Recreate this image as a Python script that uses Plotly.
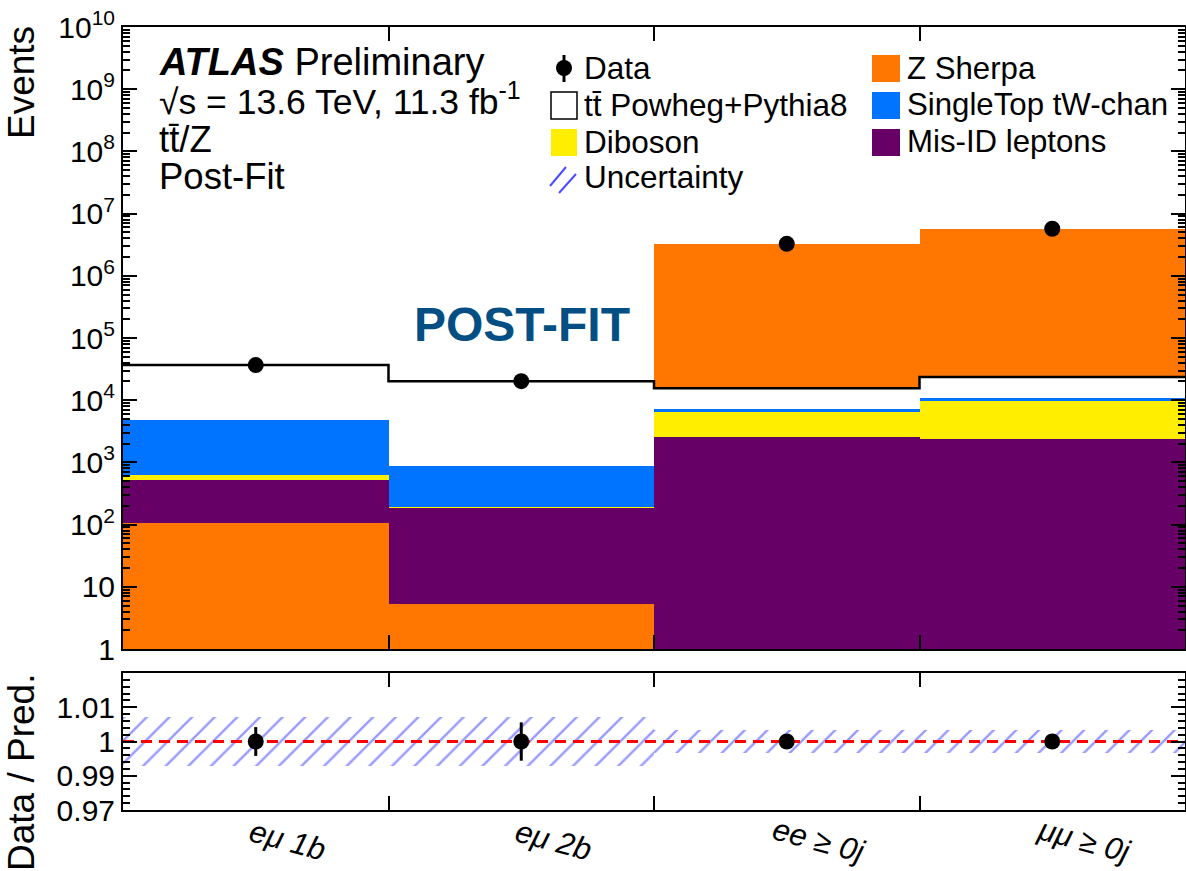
import plotly.graph_objects as go

W, H = 1186, 871
FONT = "Liberation Sans, Arial, Helvetica, sans-serif"

# ---------------- data ----------------
categories = ["eμ 1b", "eμ 2b", "ee ≥ 0j", "μμ ≥ 0j"]
z_sherpa = [104, 4.3, 3264000, 5706000]
mis_id = [425, 183, 2520, 2350]
diboson = [90, 2, 3880, 7250]
single_top = [4130, 700, 760, 1100]
ttbar = [31950, 19310, 8440, 12800]
data = [36700, 20200, 3270000, 5700000]
ratio = [1.0, 1.0, 1.0, 1.0]
ratio_err = [0.0042, 0.0056, 0.0006, 0.0004]
unc_rel = [0.0071, 0.0071, 0.0033, 0.0033]
# stacking order (bottom -> top) used per bin
stack_order = [
    ["Z", "MisID", "Diboson", "SingleTop", "ttbar"],
    ["Z", "MisID", "Diboson", "SingleTop", "ttbar"],
    ["MisID", "Diboson", "SingleTop", "ttbar", "Z"],
    ["MisID", "Diboson", "SingleTop", "ttbar", "Z"],
]
main_tickvals = [10 ** e for e in range(0, 11)]
main_ticktext = ["1", "10"] + [f"10<sup>{e}</sup>" for e in range(2, 11)]
ratio_tickvals = [0.98, 0.99, 1.0, 1.01]
ratio_ticktext = ["0.97", "0.99", "1", "1.01"]

procs = {
    "Z": (z_sherpa, "#ff7700"),
    "MisID": (mis_id, "#660066"),
    "Diboson": (diboson, "#ffee00"),
    "SingleTop": (single_top, "#0073ff"),
    "ttbar": (ttbar, "#ffffff"),
}

nb = len(categories)
xc = list(range(nb))

# compute per-bin bases
bases = {k: [0.0] * nb for k in procs}
for b in range(nb):
    cum = 1.0
    for k in stack_order[b]:
        bases[k][b] = cum
        cum += procs[k][0][b]

fig = go.Figure()

def px_x(p):
    return p / W

def px_y(p):
    return 1 - p / H

xdom = [px_x(123), px_x(1185)]
ydom_main = [px_y(649), px_y(27)]
ydom_ratio = [px_y(810), px_y(673)]

for k, (vals, col) in procs.items():
    fig.add_trace(go.Bar(
        x=xc, y=vals, base=bases[k], width=1.0,
        marker=dict(color=col, line=dict(width=0)),
        xaxis="x", yaxis="y", showlegend=False, hoverinfo="skip"))

# ttbar outline (step on the ttbar top)
tt_top = [bases["ttbar"][b] + ttbar[b] for b in range(nb)]
fig.add_trace(go.Scatter(
    x=[b - 0.5 for b in xc] + [nb - 0.5], y=tt_top + [tt_top[-1]],
    mode="lines", line=dict(color="black", width=2.5, shape="hv"),
    xaxis="x", yaxis="y", showlegend=False, hoverinfo="skip"))

fig.add_trace(go.Scatter(
    x=xc, y=data, mode="markers",
    marker=dict(color="black", size=16),
    xaxis="x", yaxis="y", showlegend=False))

# ratio panel: uncertainty band
fig.add_trace(go.Bar(
    x=xc, y=[2 * u for u in unc_rel], base=[1 - u for u in unc_rel], width=1.0,
    marker=dict(color="rgba(0,0,0,0)", line=dict(width=0),
                pattern=dict(shape="/", fgcolor="#3434ff", bgcolor="rgba(0,0,0,0)",
                             size=16, solidity=0.15)),
    xaxis="x2", yaxis="y2", showlegend=False, hoverinfo="skip"))
fig.add_trace(go.Scatter(
    x=[-0.5, nb - 0.5], y=[1, 1], mode="lines",
    line=dict(color="#ff0000", width=3, dash="11px,7px"),
    xaxis="x2", yaxis="y2", showlegend=False, hoverinfo="skip"))
fig.add_trace(go.Scatter(
    x=xc, y=ratio, mode="markers",
    marker=dict(color="black", size=16),
    error_y=dict(type="data", array=ratio_err, color="black", thickness=3, width=0),
    xaxis="x2", yaxis="y2", showlegend=False))

minor_log = [m * 10 ** e for e in range(0, 10) for m in range(2, 10)]
axis_common = dict(showline=True, linecolor="black", linewidth=2, mirror="ticks",
                   showgrid=False, zeroline=False, ticks="inside", tickcolor="black",
                   tickwidth=2, tickfont=dict(family=FONT, size=30, color="black"))

fig.update_layout(
    width=W, height=H,
    margin=dict(l=0, r=0, t=0, b=0, autoexpand=False),
    paper_bgcolor="white", plot_bgcolor="white",
    barmode="overlay", bargap=0,
    font=dict(family=FONT, color="black"),
    xaxis=dict(domain=xdom, range=[-0.5, nb - 0.5], anchor="y",
               tickmode="array", tickvals=[0.5, 1.5, 2.5], ticklen=14,
               showticklabels=False, **axis_common),
    yaxis=dict(domain=ydom_main, type="log", range=[0, 10], anchor="x",
               tickmode="array", tickvals=main_tickvals, ticktext=main_ticktext,
               ticklen=14,
               minor=dict(tickmode="array", tickvals=minor_log, ticks="inside",
                          ticklen=7, tickwidth=1.5, tickcolor="black"),
               **axis_common),
    xaxis2=dict(domain=xdom, range=[-0.5, nb - 0.5], anchor="y2",
                tickmode="array", tickvals=[0.5, 1.5, 2.5], ticklen=14,
                showticklabels=False, **axis_common),
    yaxis2=dict(domain=ydom_ratio, range=[0.98, 1.02], anchor="x2",
                tickmode="array", tickvals=ratio_tickvals, ticktext=ratio_ticktext,
                ticklen=14,
                minor=dict(tickmode="array",
                           tickvals=[0.98 + 0.002 * i for i in range(1, 20)],
                           ticks="inside", ticklen=7, tickwidth=1.5, tickcolor="black"),
                **axis_common),
)

ann = []
def text(px, py, s, size, xanchor="left", color="black", angle=0):
    ann.append(dict(x=px_x(px), y=px_y(py), xref="paper", yref="paper", text=s,
                    showarrow=False, xanchor=xanchor, yanchor="middle",
                    textangle=angle, font=dict(family=FONT, size=size, color=color)))

# category labels (slanted, below the ratio panel)
for i, c in enumerate(categories):
    ann.append(dict(x=xc[i], y=px_y(840), xref="x2", yref="paper", text=f"<i>{c}</i>",
                    showarrow=False, xanchor="center", yanchor="middle", xshift=32,
                    textangle=15, font=dict(family=FONT, size=31, color="black")))

text(157, 62, "<b><i>ATLAS</i></b> Preliminary", 38)
text(157, 99, "√s = 13.6 TeV, 11.3 fb<sup>-1</sup>", 35.5)
text(157, 139, "tt̄/Z", 36.5)
text(157, 177, "Post-Fit", 36.5)
text(522, 325, "<b>POST-FIT</b>", 48, xanchor="center", color="#034f84")
text(21, 83, "Events", 37, xanchor="center", angle=-90)
text(21, 773, "Data / Pred.", 37, xanchor="center", angle=-90)

# legend (two columns)
leg1 = ["Data", "tt̄ Powheg+Pythia8", "Diboson", "Uncertainty"]
leg2 = ["Z Sherpa", "SingleTop tW-chan", "Mis-ID leptons"]
rows = [68, 105, 142, 177]
for i, s in enumerate(leg1):
    text(582, rows[i], s, 31.5)
for i, s in enumerate(leg2):
    text(905, rows[i], s, 31.2)

shapes = []
def rect(x0, y0, x1, y1, fill, line="rgba(0,0,0,0)", lw=0):
    shapes.append(dict(type="rect", xref="paper", yref="paper",
                       x0=px_x(x0), x1=px_x(x1), y0=px_y(y0), y1=px_y(y1),
                       fillcolor=fill, line=dict(color=line, width=lw)))
def line(x0, y0, x1, y1, col, lw):
    shapes.append(dict(type="line", xref="paper", yref="paper",
                       x0=px_x(x0), x1=px_x(x1), y0=px_y(y0), y1=px_y(y1),
                       line=dict(color=col, width=lw)))

line(564, 55, 564, 82, "black", 3)
shapes.append(dict(type="circle", xref="paper", yref="paper",
                   x0=px_x(556), x1=px_x(572), y0=px_y(60), y1=px_y(76),
                   fillcolor="black", line=dict(color="black", width=0)))
rect(551, 92, 577, 119, "white", "black", 1.5)
rect(551, 129, 577, 156, procs["Diboson"][1])
line(550, 186, 566, 167, "#4b4bff", 2)
line(559, 193, 576, 174, "#4b4bff", 2)
rect(872, 55, 900, 82, procs["Z"][1])
rect(872, 92, 900, 119, procs["SingleTop"][1])
rect(872, 129, 900, 156, procs["MisID"][1])

fig.update_layout(annotations=ann, shapes=shapes)
fig.write_html("out.html")
